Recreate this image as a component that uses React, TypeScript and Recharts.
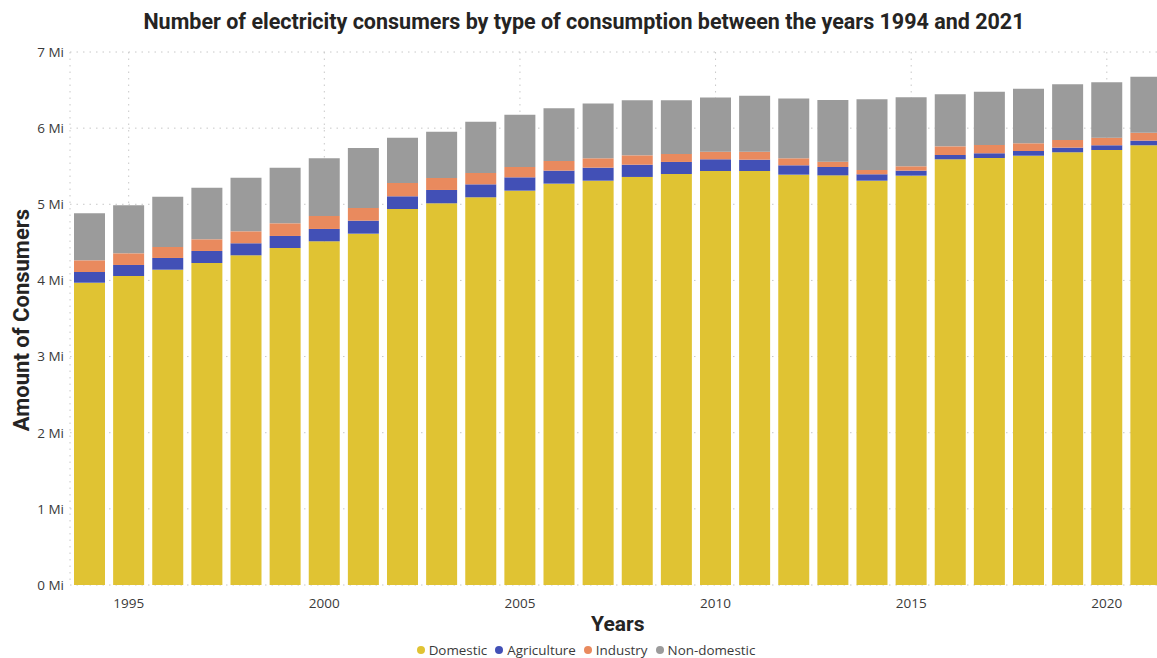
import React from 'react';
import { BarChart, Bar, XAxis, YAxis, CartesianGrid } from 'recharts';

const years = [1994, 1995, 1996, 1997, 1998, 1999, 2000, 2001, 2002, 2003, 2004, 2005, 2006, 2007, 2008, 2009, 2010, 2011, 2012, 2013, 2014, 2015, 2016, 2017, 2018, 2019, 2020, 2021];
const domestic = [3.970, 4.058, 4.141, 4.229, 4.330, 4.426, 4.514, 4.614, 4.938, 5.013, 5.092, 5.179, 5.271, 5.310, 5.359, 5.398, 5.437, 5.437, 5.389, 5.380, 5.310, 5.376, 5.591, 5.608, 5.638, 5.683, 5.713, 5.775];
const agriculture = [0.141, 0.145, 0.154, 0.158, 0.158, 0.158, 0.162, 0.171, 0.167, 0.175, 0.170, 0.175, 0.171, 0.171, 0.161, 0.158, 0.154, 0.149, 0.123, 0.110, 0.084, 0.066, 0.056, 0.062, 0.062, 0.061, 0.062, 0.061];
const industry = [0.153, 0.153, 0.144, 0.153, 0.157, 0.166, 0.170, 0.166, 0.175, 0.157, 0.149, 0.136, 0.127, 0.123, 0.123, 0.105, 0.100, 0.105, 0.092, 0.070, 0.056, 0.057, 0.114, 0.109, 0.101, 0.101, 0.100, 0.104];
const nonDomestic = [0.618, 0.631, 0.661, 0.678, 0.704, 0.731, 0.758, 0.788, 0.595, 0.609, 0.674, 0.687, 0.692, 0.718, 0.723, 0.705, 0.710, 0.736, 0.784, 0.810, 0.929, 0.906, 0.683, 0.700, 0.717, 0.732, 0.727, 0.736];

const yTicks = [0, 1, 2, 3, 4, 5, 6, 7];
const xTicks = [1995, 2000, 2005, 2010, 2015, 2020];
const seriesNames = ['Domestic', 'Agriculture', 'Industry', 'Non-domestic'];
const seriesColors = ['#E0C333', '#4250B6', '#E98A5E', '#9B9B9B'];

const data = years.map((year, i) => ({
  year,
  Domestic: domestic[i],
  Agriculture: agriculture[i],
  Industry: industry[i],
  'Non-domestic': nonDomestic[i],
}));

const titleFont = 'Roboto, "DejaVu Sans", sans-serif';
const bodyFont = '"Open Sans", "Noto Sans", sans-serif';

const YLabel = () => (
  <text
    x={21}
    y={320}
    transform="rotate(-90 21 320)"
    textAnchor="middle"
    dominantBaseline="central"
    fontFamily={titleFont}
    fontWeight={700}
    fontSize={22}
    fill="#252423"
  >
    Amount of Consumers
  </text>
);

export default function App() {
  return (
    <div
      style={{
        position: 'absolute',
        left: 0,
        top: 0,
        width: 1157,
        height: 658,
        overflow: 'hidden',
        background: '#ffffff',
      }}
    >
      <div
        style={{
          position: 'absolute',
          left: 0,
          top: 7,
          width: 1168,
          textAlign: 'center',
          fontFamily: titleFont,
          fontWeight: 700,
          fontSize: 21.5,
          color: '#252423',
          lineHeight: '30px',
        }}
      >
        Number of electricity consumers by type of consumption between the years 1994 and 2021
      </div>
      <div style={{ position: 'absolute', left: 0, top: 0, width: 1180, height: 658 }}>
        <BarChart
          width={1180}
          height={658}
          data={data}
          style={{ width: 1180, height: 658, maxWidth: 'none' }}
          margin={{ top: 52, right: 14.5, left: 0, bottom: 0 }}
        >
          <CartesianGrid stroke="#c8c8c8" strokeDasharray="1.5 5" />
          <XAxis
            dataKey="year"
            ticks={xTicks}
            interval={0}
            height={73}
            axisLine={false}
            tickLine={false}
            tickSize={0}
            tickMargin={13}
            tick={{ fontFamily: bodyFont, fontSize: 13.5, fill: '#3a3a3a' }}
            label={{
              value: 'Years',
              position: 'insideBottom',
              offset: 27,
              style: { fontFamily: titleFont, fontWeight: 700, fontSize: 21, fill: '#252423' },
            }}
          />
          <YAxis
            domain={[0, 7]}
            ticks={yTicks}
            width={70}
            axisLine={false}
            tickLine={false}
            tickSize={0}
            tickMargin={6}
            tickFormatter={(v) => `${v} Mi`}
            tick={{ fontFamily: bodyFont, fontSize: 13.5, fill: '#3a3a3a' }}
            label={<YLabel />}
          />
          {seriesNames.map((name, i) => (
            <Bar
              key={name}
              dataKey={name}
              stackId="a"
              fill={seriesColors[i]}
              barSize={31}
              isAnimationActive={false}
            />
          ))}
        </BarChart>
      </div>
      <div
        style={{
          position: 'absolute',
          left: 0,
          top: 641,
          width: 1172,
          display: 'flex',
          justifyContent: 'center',
          gap: 8,
          fontFamily: bodyFont,
          fontSize: 13.4,
          color: '#3a3a3a',
          lineHeight: '18px',
        }}
      >
        {seriesNames.map((name, i) => (
          <div key={name} style={{ display: 'flex', alignItems: 'center' }}>
            <span
              style={{
                display: 'inline-block',
                width: 8,
                height: 8,
                borderRadius: '50%',
                background: seriesColors[i],
                marginRight: 4,
              }}
            />
            <span>{name}</span>
          </div>
        ))}
      </div>
    </div>
  );
}
